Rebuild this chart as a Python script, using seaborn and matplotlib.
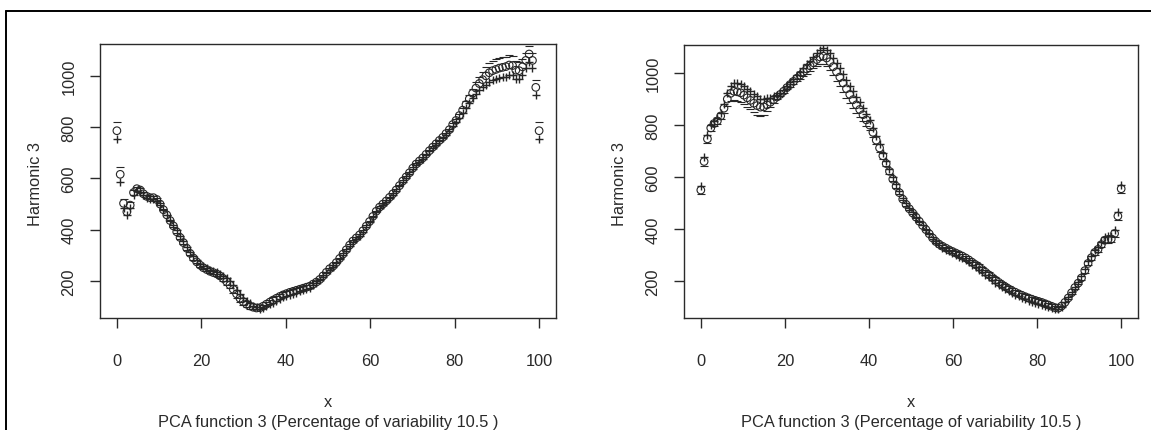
import numpy as np
import pandas as pd
import seaborn as sns
import matplotlib
matplotlib.use("Agg")
import matplotlib.pyplot as plt
from matplotlib.lines import Line2D

sns.set_style("white")
plt.rcParams["font.family"] = ["Liberation Sans", "DejaVu Sans"]

W, H, DPI = 1151, 431, 100

# evaluation grid of the functional PCA plot (nx = 128 points on [0, 100])
grid = np.linspace(0, 100, 128)

x_ticks = [0, 20, 40, 60, 80, 100]
y_ticks = [200, 400, 600, 800, 1000]
y_label = "Harmonic 3"
x_label = "x"
sub_title = "PCA function 3 (Percentage of variability 10.5 )"

# ---- left panel: mean function (circles) and harmonic perturbation ----
left_mean = [
    786, 616, 503, 470, 496, 545, 560, 555,
    540, 530, 525, 525, 518, 500, 478, 458,
    436, 415, 392, 370, 350, 328, 308, 290,
    275, 262, 252, 245, 238, 233, 228, 220,
    210, 198, 185, 168, 150, 133, 120, 110,
    103, 98, 95, 96, 102, 110, 118, 126,
    133, 140, 146, 151, 156, 160, 164, 168,
    172, 176, 180, 188, 196, 206, 220, 234,
    248, 258, 272, 288, 305, 322, 340, 356,
    368, 380, 396, 414, 432, 452, 472, 488,
    500, 512, 526, 540, 555, 572, 590, 606,
    622, 640, 656, 668, 680, 694, 708, 722,
    735, 748, 760, 775, 790, 810, 826, 845,
    866, 888, 910, 932, 952, 970, 985, 1000,
    1012, 1020, 1025, 1030, 1033, 1036, 1042, 1040,
    1022, 1020, 1035, 1060, 1085, 1060, 955, 786,
]
left_pc = [
    -34, -28, -18, -14, -12, -10, -8, -6,
    -6, -6, -6, -6, -5, -4, -2, 0,
    3, 5, 6, 6, 6, 6, 6, 6,
    6, 6, 6, 6, 6, 7, 8, 9,
    10, 12, 14, 15, 15, 15, 14, 12,
    10, 6, 2, -3, -6, -8, -9, -10,
    -10, -10, -10, -10, -10, -9, -9, -8,
    -8, -7, -6, -5, -4, -3, -3, -3,
    -3, -3, -3, -3, -3, -3, -3, -3,
    -3, -3, -3, -3, -3, -3, -3, -3,
    -3, -3, -3, -3, -3, -3, -3, -3,
    -3, -3, -3, -3, -3, -3, -3, -3,
    -3, -3, -3, -4, -4, -5, -6, -8,
    -10, -12, -15, -18, -22, -26, -30, -34,
    -37, -38, -39, -39, -39, -39, -38, -37,
    -35, -33, -31, -30, -30, -30, -30, -34,
]

# ---- right panel ----
right_mean = [
    550, 660, 747, 789, 806, 816, 835, 865,
    900, 922, 930, 928, 924, 915, 905, 895,
    884, 875, 869, 870, 878, 888, 898, 908,
    918, 930, 944, 956, 968, 980, 992, 1004,
    1016, 1028, 1040, 1052, 1062, 1065, 1058, 1044,
    1025, 1005, 985, 962, 940, 918, 898, 878,
    860, 840, 820, 800, 772, 742, 712, 682,
    652, 622, 592, 565, 540, 515, 495, 478,
    462, 446, 430, 414, 398, 382, 366, 352,
    342, 334, 327, 320, 314, 308, 302, 296,
    289, 281, 272, 263, 254, 244, 234, 224,
    214, 204, 195, 186, 178, 170, 163, 157,
    151, 145, 140, 135, 130, 126, 122, 118,
    113, 108, 103, 98, 96, 104, 118, 135,
    155, 175, 192, 212, 240, 268, 290, 310,
    322, 340, 357, 360, 362, 383, 450, 555,
]
right_pc = [
    15, 18, 15, 12, 10, 10, 12, 18,
    25, 30, 33, 35, 35, 35, 35, 35,
    35, 35, 33, 30, 25, 18, 12, 8,
    6, 6, 6, 8, 10, 12, 14, 16,
    18, 20, 22, 25, 28, 30, 32, 33,
    34, 35, 35, 35, 34, 33, 32, 30,
    28, 25, 22, 20, 18, 16, 14, 12,
    10, 9, 8, 7, 6, 5, 5, 4,
    3, 2, 1, 0, -1, -2, -3, -4,
    -5, -5, -6, -6, -7, -7, -8, -8,
    -8, -9, -9, -9, -10, -10, -10, -10,
    -10, -10, -10, -10, -10, -10, -10, -10,
    -10, -10, -10, -10, -10, -10, -10, -10,
    -10, -9, -8, -6, -4, -2, 0, 2,
    3, 4, 5, 6, 7, 8, 8, 9,
    10, 10, 11, 12, 12, 13, 14, 15,
]

fig = plt.figure(figsize=(W / DPI, H / DPI), dpi=DPI)
fig.patch.set_facecolor("white")

def fx(px):
    return px / W

def fy(py):
    return 1 - py / H

INK = "#262626"
FS = 11.8

panels = [
    dict(mean=left_mean, pc=left_pc, box=(100, 45, 556, 319), ylim=(56, 1124), ylab_x=35),
    dict(mean=right_mean, pc=right_pc, box=(684, 46, 1138, 319), ylim=(58, 1108), ylab_x=620),
]

for p in panels:
    x0, y0, x1, y1 = p["box"]
    ax = fig.add_axes([fx(x0), fy(y1), (x1 - x0) / W, (y1 - y0) / H])
    m = np.asarray(p["mean"], dtype=float)
    pc = np.asarray(p["pc"], dtype=float)
    df = pd.DataFrame({"x": grid, "mean": m, "plus": m + pc, "minus": m - pc})
    sns.scatterplot(data=df, x="x", y="mean", marker="o", s=30, color=INK,
                    facecolor="none", edgecolor=INK, linewidth=0.8, ax=ax, zorder=3)
    sns.scatterplot(data=df, x="x", y="minus", marker="_", s=28, color=INK,
                    linewidth=0.8, ax=ax, zorder=3)
    sns.scatterplot(data=df, x="x", y="plus", marker="+", s=40, color=INK,
                    linewidth=1.0, ax=ax, zorder=3)
    ax.set_xlim(-4, 104)
    ax.set_ylim(*p["ylim"])
    ax.set_xticks(x_ticks)
    ax.set_yticks(y_ticks)
    ax.set_xlabel("")
    ax.set_ylabel("")
    for s in ax.spines.values():
        s.set_color("#2a2a2a")
        s.set_linewidth(1.0)
        s.set_visible(True)
    ax.tick_params(axis="both", direction="out", length=7, width=1.0,
                   color="#2a2a2a", labelsize=FS, labelcolor="#2a2a2a",
                   bottom=True, left=True)
    ax.tick_params(axis="x", pad=18)
    ax.tick_params(axis="y", pad=10, labelrotation=90)
    for lab in ax.get_yticklabels():
        lab.set_va("center")
    cx = (x0 + x1) / 2
    fig.text(fx(p["ylab_x"]), fy((y0 + y1) / 2 + 2), y_label, rotation=90,
             ha="center", va="center", fontsize=FS, color="#2a2a2a")
    fig.text(fx(cx), fy(403), x_label, ha="center", va="center",
             fontsize=FS, color="#2a2a2a")
    fig.text(fx(cx), fy(427), sub_title, ha="center", va="baseline",
             fontsize=FS, color="#2a2a2a")

# outer frame (top and left edges visible in the reference)
fig.add_artist(Line2D([fx(6), fx(W + 5)], [fy(12), fy(12)], color="black", lw=1.4,
                      transform=fig.transFigure))
fig.add_artist(Line2D([fx(6), fx(6)], [fy(12), fy(H + 5)], color="black", lw=1.4,
                      transform=fig.transFigure))

fig.savefig("out.png", dpi=DPI, facecolor="white")
